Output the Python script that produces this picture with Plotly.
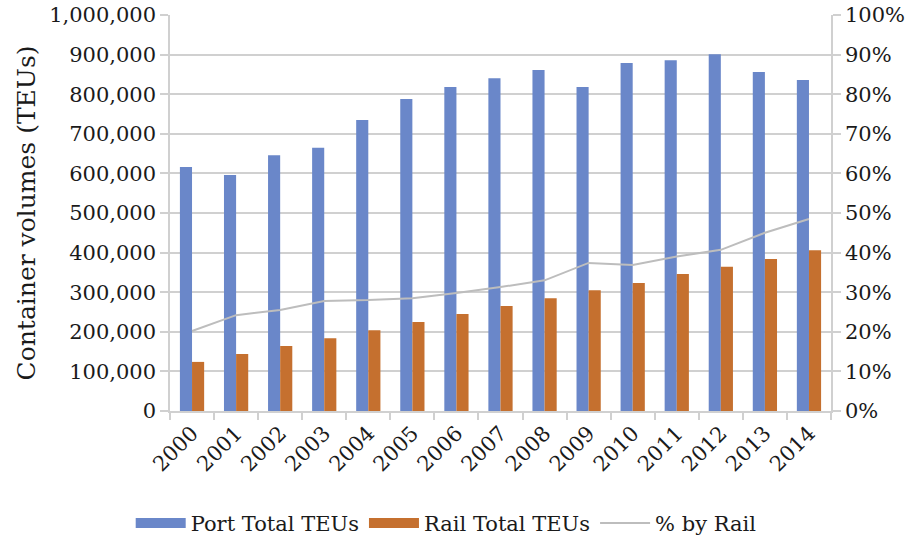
import plotly.graph_objects as go

years = ["2000", "2001", "2002", "2003", "2004", "2005", "2006", "2007",
         "2008", "2009", "2010", "2011", "2012", "2013", "2014"]
port_teus = [616000, 596000, 646000, 665000, 735000, 788000, 818000, 840000,
             861000, 818000, 879000, 886000, 901000, 856000, 836000]
rail_teus = [124000, 144000, 164000, 184000, 204000, 225000, 245000, 265000,
             285000, 305000, 323000, 346000, 364000, 384000, 406000]
pct_rail = [0.202, 0.242, 0.255, 0.278, 0.280, 0.285, 0.298, 0.313,
            0.330, 0.374, 0.369, 0.390, 0.407, 0.450, 0.485]

BLUE = "#6A87C9"
ORANGE = "#C5702F"
LINE_GRAY = "#BDBDBD"
GRID = "#D0D0D0"
TEXT = "#1a1a1a"
FONT = "DejaVu Serif"


def fnt(size, fam=FONT):
    return dict(family=fam, size=size, color=TEXT)


fig = go.Figure()
fig.add_trace(go.Bar(x=years, y=port_teus, name="Port Total TEUs",
                     marker=dict(color=BLUE, line=dict(width=0)),
                     showlegend=False, legendgroup="port"))
fig.add_trace(go.Bar(x=years, y=rail_teus, name="Rail Total TEUs",
                     marker=dict(color=ORANGE, line=dict(width=0)),
                     showlegend=False, legendgroup="rail"))
fig.add_trace(go.Scatter(x=years, y=pct_rail, name="% by Rail", yaxis="y2",
                         mode="lines", line=dict(color=LINE_GRAY, width=2),
                         showlegend=False, legendgroup="pct"))
# legend entries (wide swatches like the original)
fig.add_trace(go.Scatter(x=[None], y=[None], name="Port Total TEUs", mode="lines",
                         line=dict(color=BLUE, width=12), legendgroup="port"))
fig.add_trace(go.Scatter(x=[None], y=[None], name="Rail Total TEUs", mode="lines",
                         line=dict(color=ORANGE, width=12), legendgroup="rail"))
fig.add_trace(go.Scatter(x=[None], y=[None], name="% by Rail", mode="lines",
                         line=dict(color=LINE_GRAY, width=2), legendgroup="pct"))

fig.update_layout(
    width=920, height=540,
    margin=dict(l=170, r=89, t=15, b=129, autoexpand=False),
    paper_bgcolor="white", plot_bgcolor="white",
    font=fnt(21),
    barmode="group", bargap=0.45, bargroupgap=0,
    showlegend=True,
    legend=dict(orientation="h", xref="container", yref="container",
                x=0.485, y=0.031, xanchor="center", yanchor="middle",
                font=fnt(21), itemwidth=50, bgcolor="rgba(0,0,0,0)"),
    xaxis=dict(type="category", showline=True, linecolor=GRID, linewidth=1.5,
               ticks="outside", tickson="boundaries", ticklen=7, tickcolor=GRID,
               tickwidth=1.5, tickangle=-45, showgrid=False, automargin=False,
               tickfont=fnt(21)),
    yaxis=dict(range=[0, 1000000], dtick=100000, tickformat=",",
               showline=True, linecolor=GRID, linewidth=1.5, automargin=False,
               ticks="outside", ticklen=8, tickcolor=GRID, tickwidth=1.5,
               showgrid=True, gridcolor=GRID, gridwidth=1.5, zeroline=False,
               tickfont=fnt(21),
               title=dict(text="Container volumes (TEUs)",
                          font=fnt(25), standoff=6)),
    yaxis2=dict(range=[0, 1], dtick=0.1, tickformat=".0%", overlaying="y",
                side="right", showline=True, linecolor=GRID, linewidth=1.5,
                ticks="outside", ticklen=8, tickcolor=GRID, tickwidth=1.5,
                tickfont=fnt(21),
                showgrid=False, zeroline=False, automargin=False),
)

fig.write_html("out.html", config={"displayModeBar": False},
               post_script="document.body.style.margin='0';")
